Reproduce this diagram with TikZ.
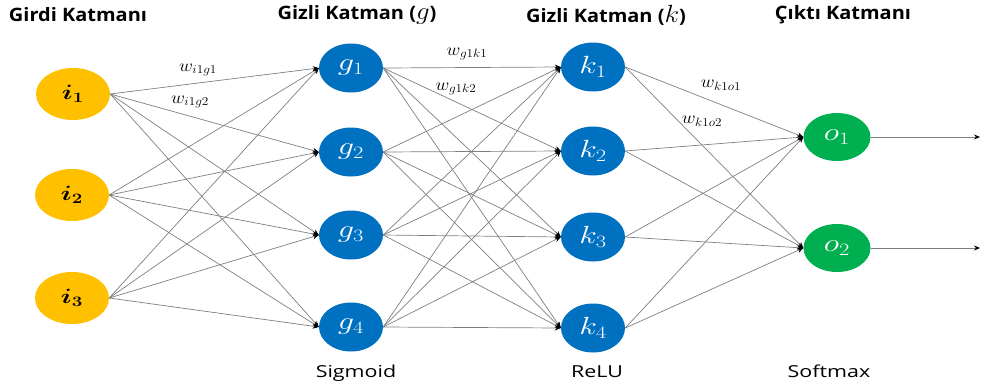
\documentclass[tikz,border=0pt]{standalone}
\usepackage{fontspec}
\setsansfont{Open Sans}
\usepackage{graphicx}
\usetikzlibrary{arrows.meta,shapes.geometric}
\definecolor{inY}{HTML}{FFC000}
\definecolor{hidB}{HTML}{0070C0}
\definecolor{outG}{HTML}{00B050}
\definecolor{edgeC}{HTML}{7F7F7F}
\newcommand\hsc[2]{\scalebox{#1}[1]{#2}}
\begin{document}
\begin{tikzpicture}[x=1pt,y=-1pt,
  neuron/.style={ellipse, inner sep=0pt},
  innode/.style={neuron, fill=inY, minimum width=74pt, minimum height=52pt, font=\fontsize{20}{22}\selectfont\boldmath},
  hidnode/.style={neuron, fill=hidB, text=white, minimum width=64pt, minimum height=49pt, font=\fontsize{24}{26}\selectfont},
  outnode/.style={neuron, fill=outG, text=white, minimum width=67pt, minimum height=48pt, font=\fontsize{24}{26}\selectfont},
  conn/.style={draw=edgeC, line width=0.7pt, -{Stealth[length=6pt,width=5pt,color=black]}},
  title/.style={font=\sffamily\bfseries\fontsize{18.5}{20}\selectfont, inner sep=0pt},
  act/.style={font=\sffamily\fontsize{16.5}{18}\selectfont, inner sep=0pt, anchor=base},
  wlab/.style={font=\fontsize{17}{19}\selectfont, inner sep=0pt}
]
\useasboundingbox (0,0) rectangle (986,384);

% titles
\node[title] (t1) at (78,15) {\hsc{1.08}{Girdi Katmanı}};
\node[title] (t2) at (357,15) {\hsc{1.08}{Gizli Katman ({\fontsize{23}{23}\selectfont$g$})}};
\node[title] (t3) at (606,15) {\hsc{1.08}{Gizli Katman ({\fontsize{23}{23}\selectfont$k$})}};
\node[title] (t4) at (843,15) {\hsc{1.08}{Çıktı Katmanı}};

% neurons
\node[innode] (i1) at (73,94) {\hsc{1.3}{$i_1$}};
\node[innode] (i2) at (72,195) {\hsc{1.3}{$i_2$}};
\node[innode] (i3) at (72,298) {\hsc{1.3}{$i_3$}};

\node[hidnode] (g1) at (351,68) {\hsc{1.3}{$g_1$}};
\node[hidnode] (g2) at (351,152) {\hsc{1.3}{$g_2$}};
\node[hidnode] (g3) at (351,235) {\hsc{1.3}{$g_3$}};
\node[hidnode] (g4) at (351,327) {\hsc{1.3}{$g_4$}};

\node[hidnode] (k1) at (593,67) {\hsc{1.3}{$k_1$}};
\node[hidnode] (k2) at (593,151) {\hsc{1.3}{$k_2$}};
\node[hidnode] (k3) at (593,237) {\hsc{1.3}{$k_3$}};
\node[hidnode] (k4) at (593,328) {\hsc{1.3}{$k_4$}};

\node[outnode] (o1) at (837,137) {\hsc{1.3}{$o_1$}};
\node[outnode] (o2) at (837,248) {\hsc{1.3}{$o_2$}};

% connections
\foreach \s in {i1,i2,i3}
  \foreach \t in {g1,g2,g3,g4}
    \draw[conn] (\s.east) -- (\t.west);
\foreach \s in {g1,g2,g3,g4}
  \foreach \t in {k1,k2,k3,k4}
    \draw[conn] (\s.east) -- (\t.west);
\foreach \s in {k1,k2,k3,k4}
  \foreach \t in {o1,o2}
    \draw[conn] (\s.east) -- (\t.west);

\coordinate (out1) at (980,137);
\coordinate (out2) at (980,248);
\draw[conn] (o1.east) -- (out1);
\draw[conn] (o2.east) -- (out2);

% weight labels
\node[wlab] (w1) at (198,70) {\hsc{1.1}{$w_{i1g1}$}};
\node[wlab] (w2) at (190,102) {\hsc{1.1}{$w_{i1g2}$}};
\node[wlab] (w3) at (467,54) {\hsc{1.1}{$w_{g1k1}$}};
\node[wlab] (w4) at (456,89) {\hsc{1.1}{$w_{g1k2}$}};
\node[wlab] (w5) at (721,85) {\hsc{1.1}{$w_{k1o1}$}};
\node[wlab] (w6) at (702,121) {\hsc{1.1}{$w_{k1o2}$}};

% activation labels
\node[act] (a1) at (356,377) {\hsc{1.3}{Sigmoid}};
\node[act] (a2) at (597,377) {\hsc{1.3}{ReLU}};
\node[act] (a3) at (829,377) {\hsc{1.3}{Softmax}};
\end{tikzpicture}
\end{document}
